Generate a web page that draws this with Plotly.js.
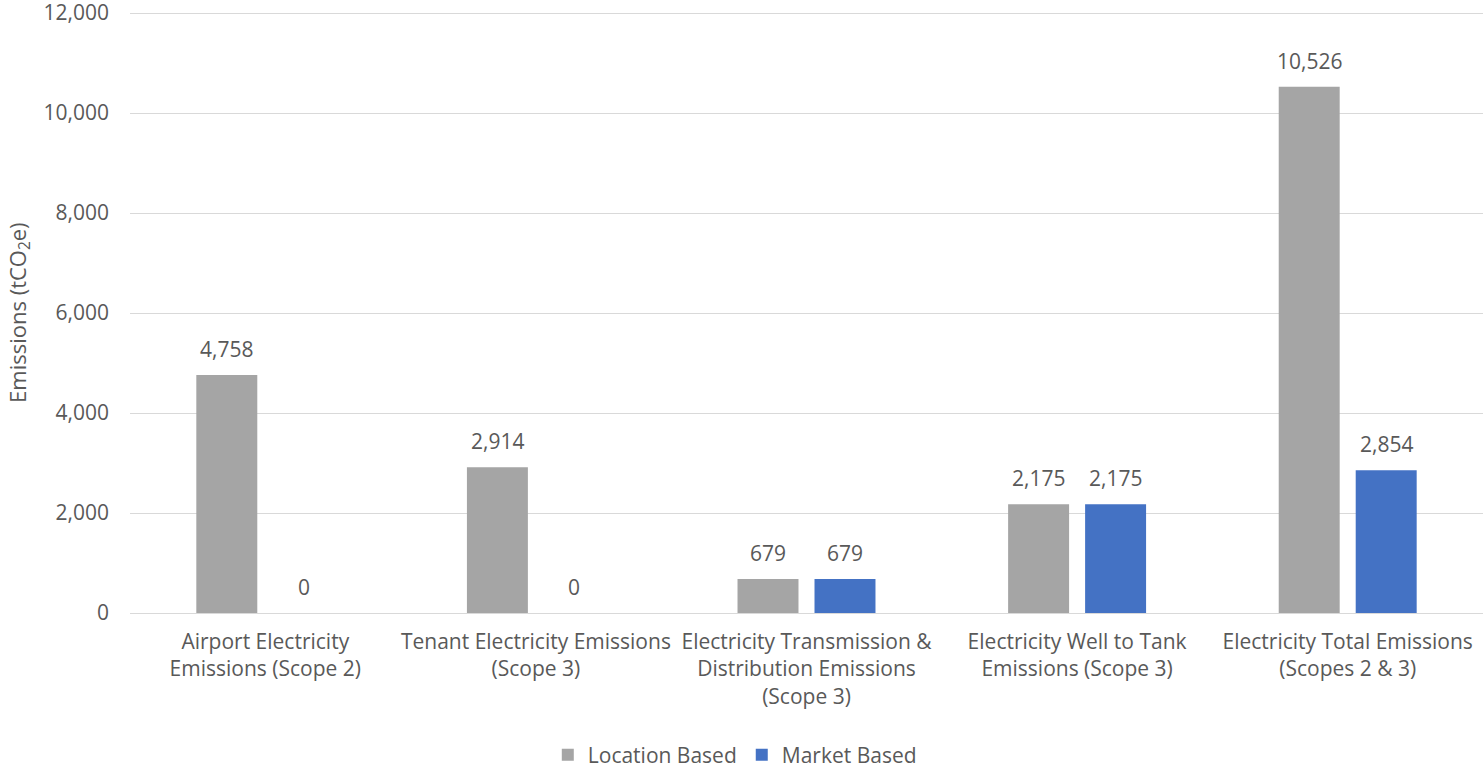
<!DOCTYPE html>
<html>
<head>
<meta charset="utf-8">
<script src="https://cdn.plot.ly/plotly-3.0.1.min.js"></script>
<style>html,body{margin:0;padding:0;background:#fff;}#chart{width:1483px;height:769px;}</style>
</head>
<body>
<div id="chart"></div>
<script>
const categories = [
  "Airport Electricity<br>Emissions (Scope 2)",
  "Tenant Electricity Emissions<br>(Scope 3)",
  "Electricity Transmission &<br>Distribution Emissions<br>(Scope 3)",
  "Electricity Well to Tank<br>Emissions (Scope 3)",
  "Electricity Total Emissions<br>(Scopes 2 & 3)"
];
const locationBased = [4758, 2914, 679, 2175, 10526];
const marketBased = [0, 0, 679, 2175, 2854];
const yTicks = [0, 2000, 4000, 6000, 8000, 10000, 12000];

const fontFam = '"Segoe UI", "Open Sans", "Noto Sans", sans-serif';
const txtColor = '#595959';
const gray = '#a5a5a5', blue = '#4472c4';

const traces = [
  {type:'bar', name:'Location Based', x:categories, y:locationBased,
   marker:{color:gray}, hoverinfo:'none'},
  {type:'bar', name:'Market Based', x:categories, y:marketBased,
   marker:{color:blue}, hoverinfo:'none'}
];

const annotations = [];
const fmt = v => v.toLocaleString('en-US');
categories.forEach((c, i) => {
  annotations.push({x:c, y:locationBased[i], xref:'x', yref:'y', text:fmt(locationBased[i]),
    showarrow:false, yanchor:'bottom', xanchor:'center', xshift:-38.5, yshift:10,
    font:{size:21, color:txtColor, family:fontFam}});
  annotations.push({x:c, y:marketBased[i], xref:'x', yref:'y', text:fmt(marketBased[i]),
    showarrow:false, yanchor:'bottom', xanchor:'center', xshift:38.5, yshift:10,
    font:{size:21, color:txtColor, family:fontFam}});
});
annotations.push({text:'Emissions (tCO<sub>2</sub>e)', xref:'paper', yref:'paper', x:-0.0825, y:0.4925,
  xanchor:'center', yanchor:'middle', textangle:-90, showarrow:false,
  font:{size:22, color:txtColor, family:fontFam}});

const layout = {
  width:1483, height:769,
  margin:{l:130, r:0, t:3, b:156, autoexpand:false},
  paper_bgcolor:'#fff', plot_bgcolor:'#fff',
  font:{family:fontFam, color:txtColor, size:21},
  barmode:'group', bargap:0.431, bargroupgap:0.208,
  showlegend:true,
  legend:{orientation:'h', x:0.447, xanchor:'center', y:-0.233, yanchor:'middle',
          font:{size:21, color:txtColor}, traceorder:'normal'},
  xaxis:{automargin:false, tickfont:{size:21, color:txtColor}, showline:false, ticks:'', showgrid:false,
         fixedrange:true, ticklabelstandoff:14},
  yaxis:{automargin:false, range:[0,12200], tickvals:yTicks, tickformat:',', showgrid:true, gridcolor:'#d9d9d9', gridwidth:1,
         zeroline:true, zerolinecolor:'#d9d9d9', zerolinewidth:1, showline:false, ticks:'',
         tickfont:{size:21, color:txtColor}, ticklabelstandoff:20, ticklabeloverflow:'allow'},
  annotations: annotations
};

Plotly.newPlot('chart', traces, layout, {displayModeBar:false, staticPlot:true});
</script>
</body>
</html>
